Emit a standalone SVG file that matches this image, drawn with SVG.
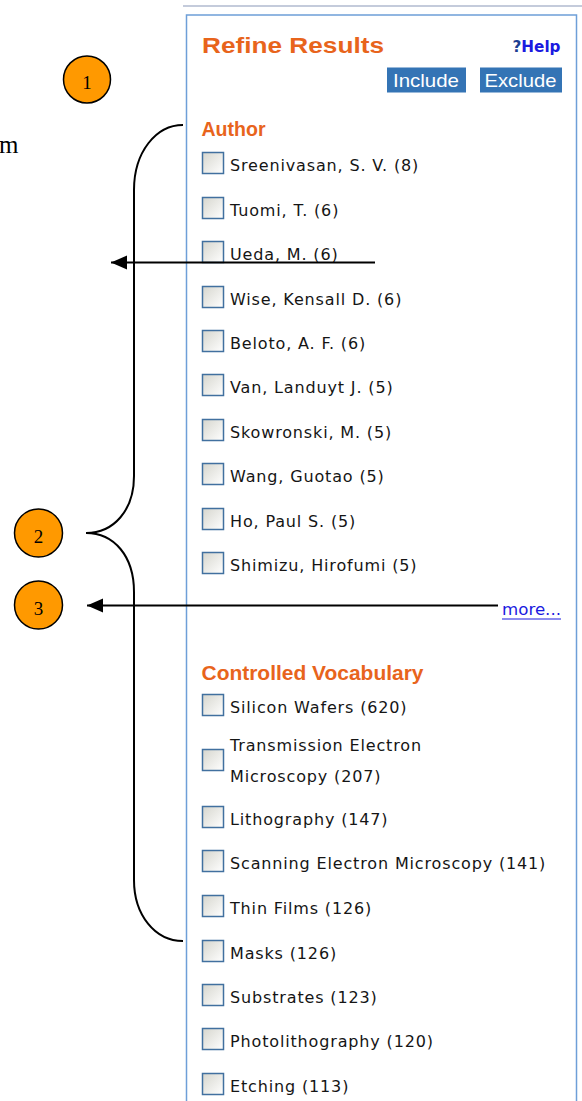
<svg xmlns="http://www.w3.org/2000/svg" width="582" height="1101" viewBox="0 0 582 1101">
<style>
.hdr{font-family:"Liberation Sans",Arial,sans-serif;font-weight:bold;fill:#e8641c}
.item{font-family:"DejaVu Sans",Verdana,sans-serif;font-size:16px;fill:#151515;letter-spacing:0.85px}
.cb{fill:url(#cbg);stroke:#41709f;stroke-width:1.5}
.num{font-family:"Liberation Serif","Times New Roman",serif;font-size:19px;fill:#000;text-anchor:middle}
.badge{fill:#ff9900;stroke:#000;stroke-width:1.5}
.btn{fill:#3474b5}
.btntxt{font-family:"Liberation Sans",Arial,sans-serif;font-size:19px;fill:#fff}
.conn{fill:none;stroke:#000;stroke-width:2}
</style>
<defs>
<linearGradient id="cbg" x1="0" y1="0" x2="1" y2="1">
<stop offset="0" stop-color="#d6d6ce"/>
<stop offset="1" stop-color="#ffffff"/>
</linearGradient>
<marker id="ah" markerUnits="userSpaceOnUse" markerWidth="18" markerHeight="16" refX="16" refY="7" orient="auto">
<path d="M0,0 L16,7 L0,14 Z" fill="#000"/>
</marker>
</defs>
<rect width="582" height="1101" fill="#fff"/>
<g id="panel">
<line x1="183" y1="6" x2="582" y2="6" stroke="#c4cbdb" stroke-width="2"/>
<rect x="186.5" y="15" width="390" height="1100" fill="none" stroke="#6e9fd8" stroke-width="1.5"/>
<text class="hdr" x="202" y="52.5" font-size="22" textLength="182" lengthAdjust="spacingAndGlyphs">Refine Results</text>
<text x="512.5" y="51.5" font-family="'DejaVu Sans',Verdana,sans-serif" font-size="15" font-weight="bold" textLength="48" lengthAdjust="spacingAndGlyphs"><tspan fill="#1d3e92">?</tspan><tspan fill="#1a1ae0">Help</tspan></text>
</g>
<g id="btn-include">
<rect class="btn" x="387" y="67.5" width="79" height="25"/>
<text class="btntxt" x="393" y="87" textLength="66" lengthAdjust="spacingAndGlyphs">Include</text>
</g>
<g id="btn-exclude">
<rect class="btn" x="480" y="67.5" width="82" height="25"/>
<text class="btntxt" x="484.5" y="87" textLength="72" lengthAdjust="spacingAndGlyphs">Exclude</text>
</g>
<g id="author">
<text class="hdr" x="201.5" y="135.5" font-size="19.5" textLength="64" lengthAdjust="spacingAndGlyphs">Author</text>
<rect class="cb" x="202.5" y="152.5" width="21" height="21"/><text class="item" x="230" y="171">Sreenivasan, S. V. (8)</text>
<rect class="cb" x="202.5" y="197.5" width="21" height="21"/><text class="item" x="230" y="216">Tuomi, T. (6)</text>
<rect class="cb" x="202.5" y="241.5" width="21" height="21"/><text class="item" x="230" y="260">Ueda, M. (6)</text>
<rect class="cb" x="202.5" y="286.5" width="21" height="21"/><text class="item" x="230" y="305">Wise, Kensall D. (6)</text>
<rect class="cb" x="202.5" y="330.5" width="21" height="21"/><text class="item" x="230" y="349">Beloto, A. F. (6)</text>
<rect class="cb" x="202.5" y="374.5" width="21" height="21"/><text class="item" x="230" y="393">Van, Landuyt J. (5)</text>
<rect class="cb" x="202.5" y="419.5" width="21" height="21"/><text class="item" x="230" y="438">Skowronski, M. (5)</text>
<rect class="cb" x="202.5" y="463.5" width="21" height="21"/><text class="item" x="230" y="482">Wang, Guotao (5)</text>
<rect class="cb" x="202.5" y="508.5" width="21" height="21"/><text class="item" x="230" y="527">Ho, Paul S. (5)</text>
<rect class="cb" x="202.5" y="552.5" width="21" height="21"/><text class="item" x="230" y="571">Shimizu, Hirofumi (5)</text>
<text x="502" y="615" font-family="'DejaVu Sans',Verdana,sans-serif" font-size="16" fill="#1a1ae0" textLength="59" lengthAdjust="spacingAndGlyphs">more...</text>
<line x1="502" y1="619" x2="561" y2="619" stroke="#1a1ae0" stroke-width="1.2"/>
</g>
<g id="vocabulary">
<text class="hdr" x="201.5" y="679.5" font-size="19.5" textLength="222" lengthAdjust="spacingAndGlyphs">Controlled Vocabulary</text>
<rect class="cb" x="202.5" y="694.5" width="21" height="21"/><text class="item" x="230" y="713">Silicon Wafers (620)</text>
<rect class="cb" x="202.5" y="749.5" width="21" height="21"/><text class="item" x="230" y="750.5">Transmission Electron</text><text class="item" x="230" y="782">Microscopy (207)</text>
<rect class="cb" x="202.5" y="806.5" width="21" height="21"/><text class="item" x="230" y="825">Lithography (147)</text>
<rect class="cb" x="202.5" y="850.5" width="21" height="21"/><text class="item" x="230" y="869">Scanning Electron Microscopy (141)</text>
<rect class="cb" x="202.5" y="895.5" width="21" height="21"/><text class="item" x="230" y="914">Thin Films (126)</text>
<rect class="cb" x="202.5" y="940.5" width="21" height="21"/><text class="item" x="230" y="959">Masks (126)</text>
<rect class="cb" x="202.5" y="984.5" width="21" height="21"/><text class="item" x="230" y="1003">Substrates (123)</text>
<rect class="cb" x="202.5" y="1028.5" width="21" height="21"/><text class="item" x="230" y="1047">Photolithography (120)</text>
<rect class="cb" x="202.5" y="1073.5" width="21" height="21"/><text class="item" x="230" y="1092">Etching (113)</text>
</g>
<g id="fragment">
<text x="-1" y="153" font-family="'Liberation Serif','Times New Roman',serif" font-size="25" fill="#000">m</text>
</g>
<g id="connectors">
<path class="conn" d="M183,125 C156,125 134,152 134,190 L134,476 C134,510 114,533 86,533 C114,533 134,556 134,592 L134,880 C134,915 155,941 183,941"/>
<line class="conn" x1="375" y1="262.5" x2="111" y2="262.5" marker-end="url(#ah)"/>
<line class="conn" x1="498" y1="605.5" x2="87" y2="605.5" marker-end="url(#ah)"/>
</g>
<g id="badge-1">
<circle class="badge" cx="87" cy="79.5" r="23.5"/>
<text class="num" x="87" y="88.5">1</text>
</g>
<g id="badge-2">
<circle class="badge" cx="38.5" cy="533" r="24"/>
<text class="num" x="38.5" y="543">2</text>
</g>
<g id="badge-3">
<circle class="badge" cx="38.5" cy="605" r="24"/>
<text class="num" x="38.5" y="615">3</text>
</g>
</svg>
